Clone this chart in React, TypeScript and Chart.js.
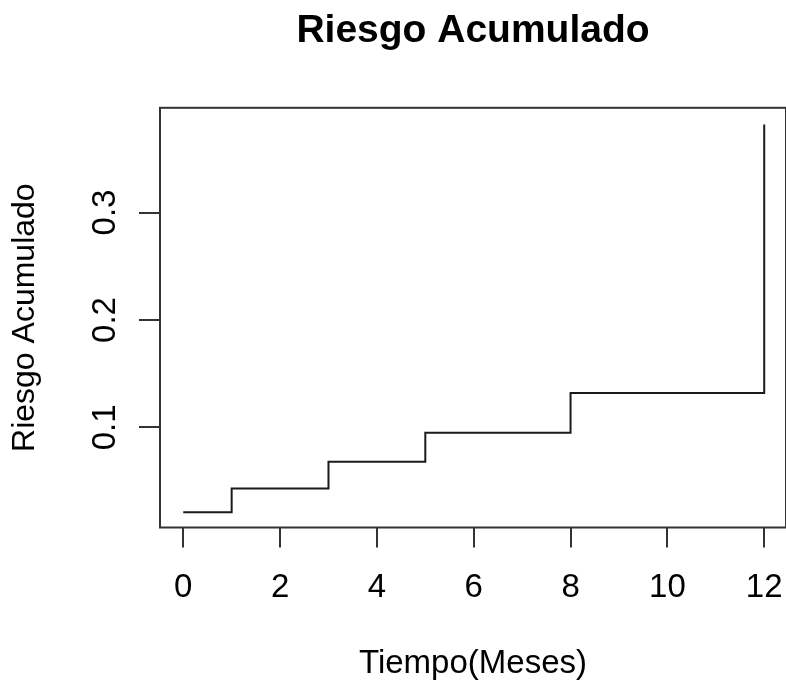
import React, { useEffect, useRef } from 'react';
import { Chart, registerables } from 'chart.js';

Chart.register(...registerables);

const TIEMPO = [0, 1, 3, 5, 8, 12];
const RIESGO = [0.021, 0.043, 0.068, 0.095, 0.132, 0.382];
const X_TICKS = [0, 2, 4, 6, 8, 10, 12];
const Y_TICKS = [0.1, 0.2, 0.3];
const Y_TICK_LABELS = ['0.1', '0.2', '0.3'];
const TITLE = 'Riesgo Acumulado';
const X_TITLE = 'Tiempo(Meses)';
const Y_TITLE = 'Riesgo Acumulado';

const FONT = "'Liberation Sans', Arial, Helvetica, sans-serif";
const AXIS_COLOR = '#333';

const boxPlugin = {
  id: 'rbox',
  afterDraw(chart: any) {
    const { ctx, chartArea: a } = chart;
    ctx.save();
    ctx.strokeStyle = AXIS_COLOR;
    ctx.lineWidth = 2;
    ctx.strokeRect(a.left, a.top, a.right - a.left, a.bottom - a.top);
    const ys = chart.scales.y;
    ctx.fillStyle = '#000';
    ctx.font = `33px ${FONT}`;
    ctx.textAlign = 'center';
    ctx.textBaseline = 'alphabetic';
    Y_TICKS.forEach((v, i) => {
      const py = ys.getPixelForValue(v);
      ctx.save();
      ctx.translate(ys.right - 45, py);
      ctx.rotate(-Math.PI / 2);
      ctx.fillText(Y_TICK_LABELS[i], 0, 0);
      ctx.restore();
    });
    ctx.restore();
  },
};

export default function App() {
  const ref = useRef<HTMLCanvasElement | null>(null);
  useEffect(() => {
    if (!ref.current) return;
    const tickFont = { family: FONT, size: 33 };
    const chart = new Chart(ref.current, {
      type: 'line',
      data: {
        datasets: [
          {
            data: TIEMPO.map((x, i) => ({ x, y: RIESGO[i] })),
            stepped: true,
            borderColor: '#1a1a1a',
            borderWidth: 2,
            pointRadius: 0,
            fill: false,
          },
        ],
      },
      options: {
        animation: false,
        responsive: false,
        layout: { padding: 0 },
        plugins: {
          legend: { display: false },
          tooltip: { enabled: false },
          title: {
            display: true,
            fullSize: false,
            text: TITLE,
            color: '#000',
            font: { family: FONT, size: 39, weight: 'bold' },
            padding: { top: 8, bottom: 53 },
          },
        },
        scales: {
          x: {
            type: 'linear',
            min: -0.48,
            max: 12.45,
            afterBuildTicks: (s: any) => {
              s.ticks = X_TICKS.map((v) => ({ value: v }));
            },
            afterFit: (s: any) => {
              s.height = 157.5;
              s.paddingLeft = 0;
              s.paddingRight = 0;
            },
            grid: { drawOnChartArea: false, drawTicks: true, tickLength: 20, color: AXIS_COLOR, lineWidth: 2 },
            border: { display: false },
            ticks: { font: tickFont, color: '#000', padding: 21, maxRotation: 0, autoSkip: false, callback: (v: any) => String(v) },
            title: { display: true, text: X_TITLE, color: '#000', font: { family: FONT, size: 33 }, padding: { top: 0, bottom: 1 } },
          },
          y: {
            type: 'linear',
            min: 0.0068,
            max: 0.3975,
            afterBuildTicks: (s: any) => {
              s.ticks = Y_TICKS.map((v) => ({ value: v }));
            },
            afterFit: (s: any) => {
              s.width = 160;
              s.paddingTop = 0;
              s.paddingBottom = 0;
            },
            grid: { drawOnChartArea: false, drawTicks: true, tickLength: 21, color: AXIS_COLOR, lineWidth: 2 },
            border: { display: false },
            ticks: { display: false },
            title: { display: true, text: Y_TITLE, color: '#000', font: { family: FONT, size: 32 }, padding: { top: 6, bottom: 0 } },
          },
        },
      },
      plugins: [boxPlugin],
    } as any);
    return () => chart.destroy();
  }, []);
  return (
    <div style={{ position: 'absolute', left: 0, top: 0, width: 786, height: 685, overflow: 'hidden', background: '#fff' }}>
      <canvas ref={ref} width={786} height={685} style={{ display: 'block' }} />
    </div>
  );
}
